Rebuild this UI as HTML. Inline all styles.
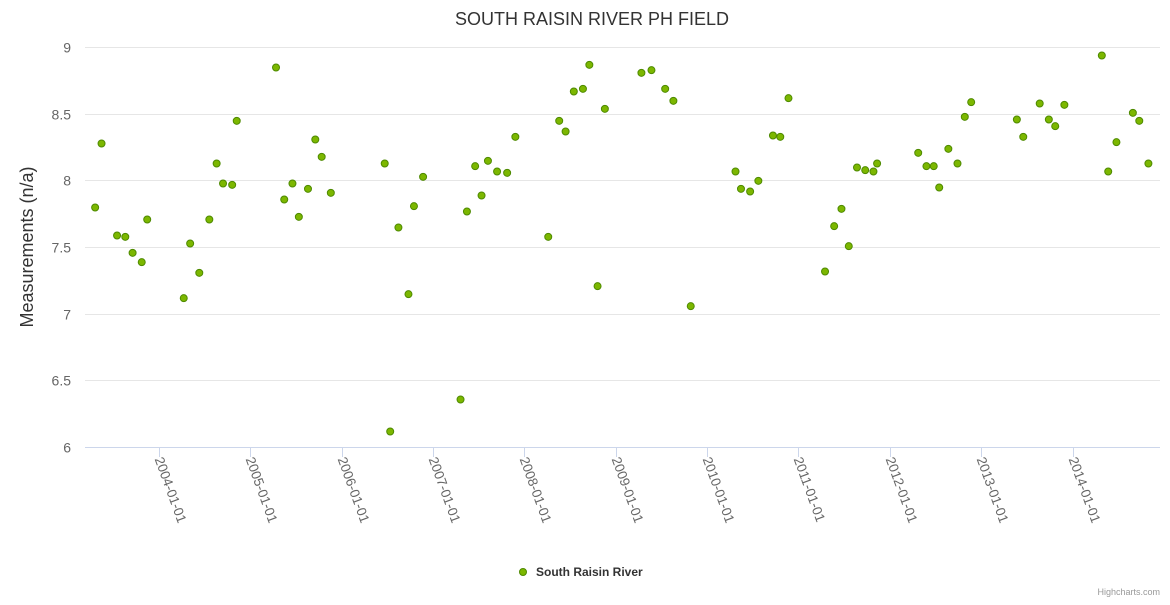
<!DOCTYPE html>
<html><head><meta charset="utf-8"><style>
body{margin:0;background:#fff;font-family:"Liberation Sans",sans-serif}
svg text{font-family:"Liberation Sans",sans-serif}
</style></head><body>
<svg id="chart" width="1170" height="600">
<text x="592" y="25" text-anchor="middle" font-size="18" fill="#333">SOUTH RAISIN RIVER PH FIELD</text>
<text transform="translate(33,247) rotate(-90)" text-anchor="middle" font-size="18" fill="#333">Measurements (n/a)</text>
<g id="grid"></g><g id="xaxis"></g><g id="pts"></g>
<g>
<circle cx="523" cy="572" r="3.5" fill="#7cb700" stroke="#4e8a00" stroke-width="1"/>
<text x="536" y="576" font-size="12" font-weight="bold" fill="#333">South Raisin River</text></g>
<text x="1160" y="595" text-anchor="end" font-size="9" fill="#999">Highcharts.com</text>
</svg>
<script>
const years=[2003.29,2003.36,2003.53,2003.62,2003.70,2003.80,2003.86,2004.26,2004.33,2004.43,2004.54,2004.62,2004.69,2004.79,2004.84,2005.27,2005.36,2005.45,2005.52,2005.62,2005.70,2005.77,2005.87,2006.46,2006.52,2006.61,2006.72,2006.78,2006.88,2007.29,2007.36,2007.45,2007.52,2007.59,2007.69,2007.80,2007.89,2008.25,2008.37,2008.44,2008.53,2008.63,2008.70,2008.79,2008.87,2009.27,2009.38,2009.53,2009.62,2009.81,2010.30,2010.36,2010.46,2010.55,2010.71,2010.79,2010.88,2011.28,2011.38,2011.46,2011.54,2011.63,2011.72,2011.81,2011.85,2012.30,2012.39,2012.47,2012.53,2012.63,2012.73,2012.81,2012.88,2013.38,2013.45,2013.63,2013.73,2013.80,2013.90,2014.31,2014.38,2014.47,2014.65,2014.72,2014.82];
const values=[7.80,8.28,7.59,7.58,7.46,7.39,7.71,7.12,7.53,7.31,7.71,8.13,7.98,7.97,8.45,8.85,7.86,7.98,7.73,7.94,8.31,8.18,7.91,8.13,6.12,7.65,7.15,7.81,8.03,6.36,7.77,8.11,7.89,8.15,8.07,8.06,8.33,7.58,8.45,8.37,8.67,8.69,8.87,7.21,8.54,8.81,8.83,8.69,8.60,7.06,8.07,7.94,7.92,8.00,8.34,8.33,8.62,7.32,7.66,7.79,7.51,8.10,8.08,8.07,8.13,8.21,8.11,8.11,7.95,8.24,8.13,8.48,8.59,8.46,8.33,8.58,8.46,8.41,8.57,8.94,8.07,8.29,8.51,8.45,8.13];
const yTicks=[6,6.5,7,7.5,8,8.5,9];
const xTickYears=[2004,2005,2006,2007,2008,2009,2010,2011,2012,2013,2014];
const xTickLabels=["2004-01-01","2005-01-01","2006-01-01","2007-01-01","2008-01-01","2009-01-01","2010-01-01","2011-01-01","2012-01-01","2013-01-01","2014-01-01"];
const NS="http://www.w3.org/2000/svg";
const xS=v=>159+(v-2004)*91.35;
const yS=v=>447-(v-6)*133.33;
function mk(tag,attrs,parent,txt){const e=document.createElementNS(NS,tag);for(const k in attrs)e.setAttribute(k,attrs[k]);if(txt!==undefined)e.textContent=txt;parent.appendChild(e);return e;}
const grid=document.getElementById('grid'),xa=document.getElementById('xaxis'),pts=document.getElementById('pts');
yTicks.forEach((t,i)=>{
 const y=Math.round(yS(t))+0.5;
 if(i>0){const l=mk('line',{x1:85,x2:1160,y1:y,y2:y,stroke:'#e6e6e6'},grid);
 
 }
 const tx=mk('text',{x:71,y:y+5,'text-anchor':'end','font-size':14,fill:'#666'},grid,String(t));
 
 
});
const ax=mk('line',{x1:85,x2:1160,y1:447.5,y2:447.5,stroke:'#ccd6eb'},xa);


xTickYears.forEach((yr,i)=>{
 const x=Math.round(xS(yr))+0.5;
 const tk=mk('line',{x1:x,x2:x,y1:447,y2:457,stroke:'#ccd6eb'},xa);
 
 
 const tx=mk('text',{transform:`translate(${x-5},${459}) rotate(70)`,'font-size':13.5,fill:'#666'},xa,xTickLabels[i]);
 
 
});
years.forEach((yr,i)=>{
 const c=mk('circle',{cx:xS(yr)+1,cy:yS(values[i])+0.5,r:3.5,fill:'#7cb700',stroke:'#4e8a00','stroke-width':1},pts);
 
 
});
</script>
</body></html>
